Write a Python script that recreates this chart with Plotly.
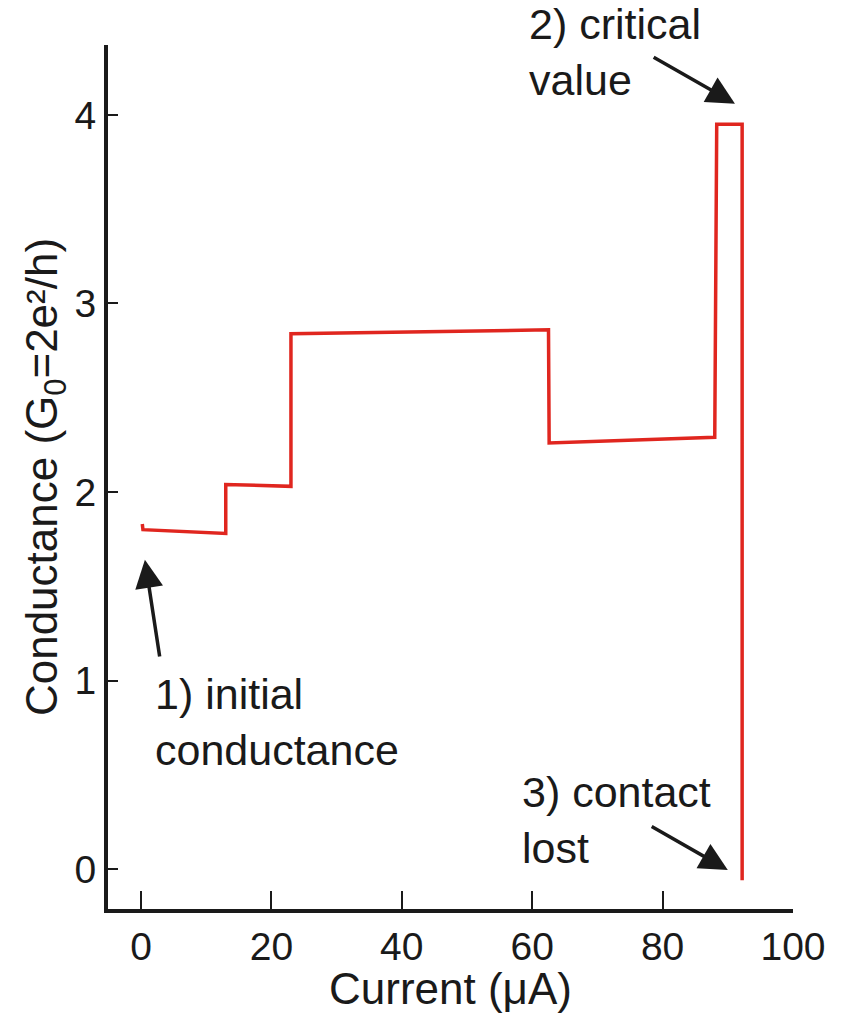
import plotly.graph_objects as go

# Data
current = [0.2, 0.3, 13.0, 13.0, 23.0, 23.0, 62.5, 62.6, 88.0, 88.3, 92.2, 92.2]
conductance = [1.83, 1.80, 1.78, 2.04, 2.03, 2.84, 2.86, 2.26, 2.29, 3.95, 3.95, -0.06]

x_ticks = [0, 20, 40, 60, 80, 100]
y_ticks = [0, 1, 2, 3, 4]

FONT = "Liberation Sans, Arial, sans-serif"

fig = go.Figure()
fig.add_trace(go.Scatter(x=current, y=conductance, mode="lines",
                         line=dict(color="#e0261f", width=3.5), showlegend=False))

ann_font = dict(family=FONT, size=43, color="#1a1a1a")
# labels
fig.add_annotation(x=1.8, y=0.78, xref="x", yref="y", text="1) initial<br>conductance",
                   showarrow=False, xanchor="left", yanchor="middle", align="left", font=ann_font)
fig.add_annotation(x=59.2, y=4.335, xref="x", yref="y", text="2) critical<br>value",
                   showarrow=False, xanchor="left", yanchor="middle", align="left", font=ann_font)
fig.add_annotation(x=58.1, y=0.26, xref="x", yref="y", text="3) contact<br>lost",
                   showarrow=False, xanchor="left", yanchor="middle", align="left", font=ann_font)
# arrows
arrow = dict(showarrow=True, arrowhead=2, arrowsize=1.6, arrowwidth=3.5, arrowcolor="#1a1a1a",
             axref="x", ayref="y", xref="x", yref="y", text="")
fig.add_annotation(x=0.6, y=1.64, ax=2.9, ay=1.12, **arrow)
fig.add_annotation(x=91.1, y=4.06, ax=78.4, ay=4.31, **arrow)
fig.add_annotation(x=90.0, y=-0.005, ax=78.1, ay=0.23, **arrow)

fig.update_layout(
    width=846, height=1013,
    margin=dict(l=108, r=53, t=45, b=104),
    plot_bgcolor="white", paper_bgcolor="white",
    font=dict(family=FONT, color="#1a1a1a"),
    xaxis=dict(range=[-5.06, 100], tickvals=x_ticks, ticks="inside", ticklen=18, tickwidth=2,
               tickcolor="#1a1a1a", showline=True, linewidth=4, linecolor="#1a1a1a",
               showgrid=False, zeroline=False, tickfont=dict(size=39),
               title=dict(text="Current (μA)", font=dict(size=44), standoff=2)),
    yaxis=dict(range=[-0.212, 4.371], tickvals=y_ticks, ticks="inside", ticklen=10, tickwidth=2,
               tickcolor="#1a1a1a", showline=True, linewidth=4, linecolor="#1a1a1a",
               showgrid=False, zeroline=False, tickfont=dict(size=39),
               title=dict(text="Conductance (G<sub>0</sub>=2e²/h)", font=dict(size=44), standoff=4)),
)

fig.write_html("out.html")
